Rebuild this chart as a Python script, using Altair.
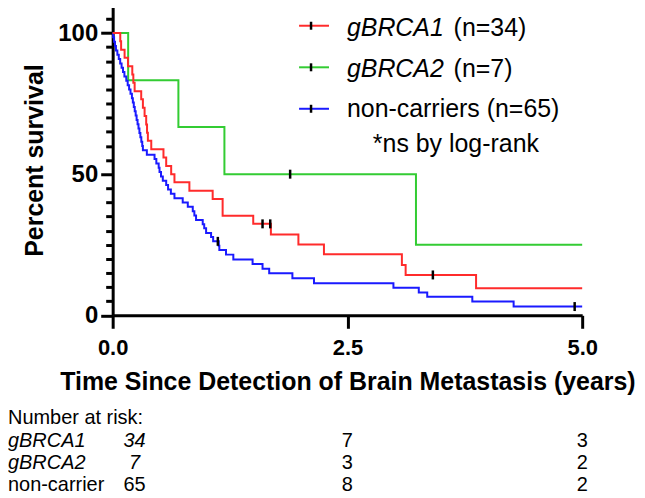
import altair as alt
import pandas as pd

FONT = "Liberation Sans"

# ---------------- data ----------------
groups = ["gBRCA1", "gBRCA2", "non-carriers"]
colors = ["#FF2B2B", "#33CC33", "#1A1AFF"]
n_labels = ["(n=34)", "(n=7)", "(n=65)"]

red_t = [0, 0.081, 0.09, 0.127, 0.163, 0.209, 0.22, 0.234, 0.304, 0.322, 0.340, 0.357,
         0.366, 0.375, 0.411, 0.541, 0.570, 0.623, 0.658, 0.817, 1.065, 1.171, 1.497,
         1.685, 1.978, 2.25, 3.08, 3.12, 3.87, 5.0]
red_s = [100, 97.1, 94.1, 91.2, 88.2, 85.3, 82.4, 79.4, 76.5, 73.5, 70.6, 67.6,
         64.7, 61.8, 58.8, 55.9, 52.9, 50.0, 47.1, 44.1, 41.2, 35.3, 32.4,
         28.6, 25.1, 21.6, 17.8, 14.3, 9.6, 9.6]

green_t = [0, 0.165, 0.70, 1.19, 3.23, 5.0]
green_s = [100, 83.3, 66.7, 50.0, 25.0, 25.0]

blue_t = [0, 0.005, 0.015, 0.025, 0.035, 0.05, 0.065, 0.08, 0.095, 0.11, 0.125, 0.145,
          0.16, 0.175, 0.19, 0.205, 0.215, 0.225, 0.235, 0.245, 0.255, 0.265, 0.275,
          0.285, 0.295, 0.305, 0.315, 0.322, 0.364, 0.446, 0.465, 0.49, 0.499, 0.515,
          0.534, 0.57, 0.59, 0.62, 0.658, 0.746, 0.80, 0.853, 0.87, 0.888, 0.959, 0.975,
          0.995, 1.048, 1.07, 1.13, 1.136, 1.207, 1.285, 1.49, 1.596, 1.667, 1.914,
          2.144, 2.99, 3.26, 3.35, 3.83, 4.27, 5.0]
blue_s = [100, 98.5, 96.9, 95.4, 93.8, 92.3, 90.8, 89.2, 87.7, 86.2, 84.6, 83.1,
          81.5, 80.0, 78.5, 76.9, 75.4, 73.8, 72.3, 70.8, 69.2, 67.7, 66.2,
          64.6, 63.1, 61.5, 60.0, 58.5, 56.9, 55.4, 53.8, 52.3, 50.8, 49.2,
          47.7, 46.2, 44.6, 43.1, 41.5, 40.0, 38.5, 36.9, 35.4, 33.8, 32.3, 30.8,
          29.2, 27.7, 26.2, 24.6, 23.1, 21.5, 19.8, 18.2, 16.5, 14.9, 13.1,
          11.4, 9.8, 8.1, 6.6, 4.9, 3.1, 3.1]

cens_t = [1.596, 1.678, 3.41, 1.89, 1.12, 4.92]
cens_s = [32.4, 32.4, 14.3, 50.0, 26.2, 3.1]

risk_times = [0, 2.5, 5.0]
risk_labels = ["gBRCA1", "gBRCA2", "non-carrier"]
risk_gbrca1 = [34, 7, 3]
risk_gbrca2 = [7, 3, 2]
risk_noncarrier = [65, 8, 2]

x_title = "Time Since Detection of Brain Metastasis (years)"
y_title = "Percent survival"
note = "*ns by log-rank"

# ---------------- layout constants ----------------
W, H = 471, 311.5

x_axis = alt.Axis(values=[0, 2.5, 5], format=".1f", grid=False,
                  labelFont=FONT, labelFontWeight="bold", labelFontSize=22, labelColor="black",
                  labelFlush=False, labelOverlap=False, labelPadding=9,
                  tickSize=13, tickWidth=3, tickColor="black",
                  domainWidth=3, domainColor="black",
                  titleFont=FONT, titleFontWeight="bold", titleFontSize=25, titleColor="black",
                  titleBaseline="alphabetic", titleY=74, titleX=W / 2, titleAlign="center")
y_axis = alt.Axis(values=list(range(0, 115, 5)), grid=False,
                  labelExpr="datum.value % 50 === 0 ? datum.label : ''",
                  labelFont=FONT, labelFontWeight="bold", labelFontSize=24, labelColor="black",
                  labelPadding=3, labelOverlap=False,
                  tickSize={"condition": {"test": "datum.value % 50 === 0", "value": 12}, "value": 7},
                  tickWidth=3, tickColor="black",
                  domainWidth=3, domainColor="black",
                  titleFont=FONT, titleFontWeight="bold", titleFontSize=25, titleColor="black",
                  titleAngle=270, titleBaseline="alphabetic", titleAlign="center",
                  titleX=-70, titleY=H / 2)

x_enc = alt.X("t:Q", scale=alt.Scale(domain=[0, 5], nice=False, zero=False), axis=x_axis, title=x_title)
y_enc = alt.Y("s:Q", scale=alt.Scale(domain=[0, 110], nice=False, zero=False), axis=y_axis, title=y_title)

layers = []

# survival curves (green, blue, red from bottom to top)
for ts, ss, col in [(green_t, green_s, colors[1]), (blue_t, blue_s, colors[2]), (red_t, red_s, colors[0])]:
    df = pd.DataFrame({"t": ts, "s": ss})
    layers.append(alt.Chart(df).mark_line(interpolate="step-after", strokeWidth=2, color=col)
                  .encode(x=x_enc, y=y_enc))

# censor ticks
cens = pd.DataFrame({"t": cens_t, "s": cens_s})
layers.append(alt.Chart(cens).mark_rule(color="black", strokeWidth=2.5, yOffset=-4.5, y2Offset=4.5)
              .encode(x=x_enc, y=y_enc, y2="s:Q"))

# legend
leg_line_y = [21, 62.7, 104.3]
leg_text_y = [31, 72, 113]
for i in range(3):
    one = pd.DataFrame({"name": [groups[i]], "n": [n_labels[i]]})
    layers.append(alt.Chart(one).mark_rule(color=colors[i], strokeWidth=2)
                  .encode(x=alt.value(187), x2=alt.value(217), y=alt.value(leg_line_y[i])))
    layers.append(alt.Chart(one).mark_rule(color="black", strokeWidth=2.5)
                  .encode(x=alt.value(199), y=alt.value(leg_line_y[i] - 4), y2=alt.value(leg_line_y[i] + 4)))
    if i < 2:
        layers.append(alt.Chart(one).mark_text(font=FONT, fontSize=25, fontStyle="italic", align="left",
                                               baseline="alphabetic", color="black")
                      .encode(x=alt.value(235), y=alt.value(leg_text_y[i]), text="name:N"))
        layers.append(alt.Chart(one).mark_text(font=FONT, fontSize=25, align="left",
                                               baseline="alphabetic", color="black")
                      .encode(x=alt.value(342), y=alt.value(leg_text_y[i]), text="n:N"))
    else:
        layers.append(alt.Chart(one).mark_text(font=FONT, fontSize=25, align="left",
                                               baseline="alphabetic", color="black")
                      .encode(x=alt.value(235), y=alt.value(leg_text_y[i]),
                              text=alt.Text("full:N"))
                      .transform_calculate(full="datum.name + ' ' + datum.n"))

layers.append(alt.Chart(pd.DataFrame({"lab": [note]})).mark_text(
    font=FONT, fontSize=25, align="left", baseline="alphabetic", color="black")
    .encode(x=alt.value(261), y=alt.value(148), text="lab:N"))

# number at risk table
layers.append(alt.Chart(pd.DataFrame({"lab": ["Number at risk:"]})).mark_text(
    font=FONT, fontSize=20, align="left", baseline="alphabetic", color="black")
    .encode(x=alt.value(-105), y=alt.value(421), text="lab:N"))

row_y = [444, 466, 488]
row_counts = [risk_gbrca1, risk_gbrca2, risk_noncarrier]
for i in range(3):
    style = "italic" if i < 2 else "normal"
    df = pd.DataFrame({"t": risk_times, "n": row_counts[i], "lab": risk_labels[i]})
    layers.append(alt.Chart(df.iloc[:1]).mark_text(
        font=FONT, fontSize=20, fontStyle=style, align="left", baseline="alphabetic", color="black")
        .encode(x=alt.value(-105), y=alt.value(row_y[i]), text="lab:N"))
    layers.append(alt.Chart(df.iloc[:1]).mark_text(
        font=FONT, fontSize=20, fontStyle=style, align="center", baseline="alphabetic", color="black", dx=22)
        .encode(x=x_enc, y=alt.value(row_y[i]), text="n:Q"))
    layers.append(alt.Chart(df.iloc[1:]).mark_text(
        font=FONT, fontSize=20, align="center", baseline="alphabetic", color="black")
        .encode(x=x_enc, y=alt.value(row_y[i]), text="n:Q"))

chart = alt.layer(*layers).properties(
    width=W, height=H,
    padding={"left": 105, "top": -4, "right": 55, "bottom": 190},
    autosize=alt.AutoSizeParams(type="none"),
).configure_view(stroke=None)

chart.save("out.html", embed_options={"renderer": "svg", "actions": False})
